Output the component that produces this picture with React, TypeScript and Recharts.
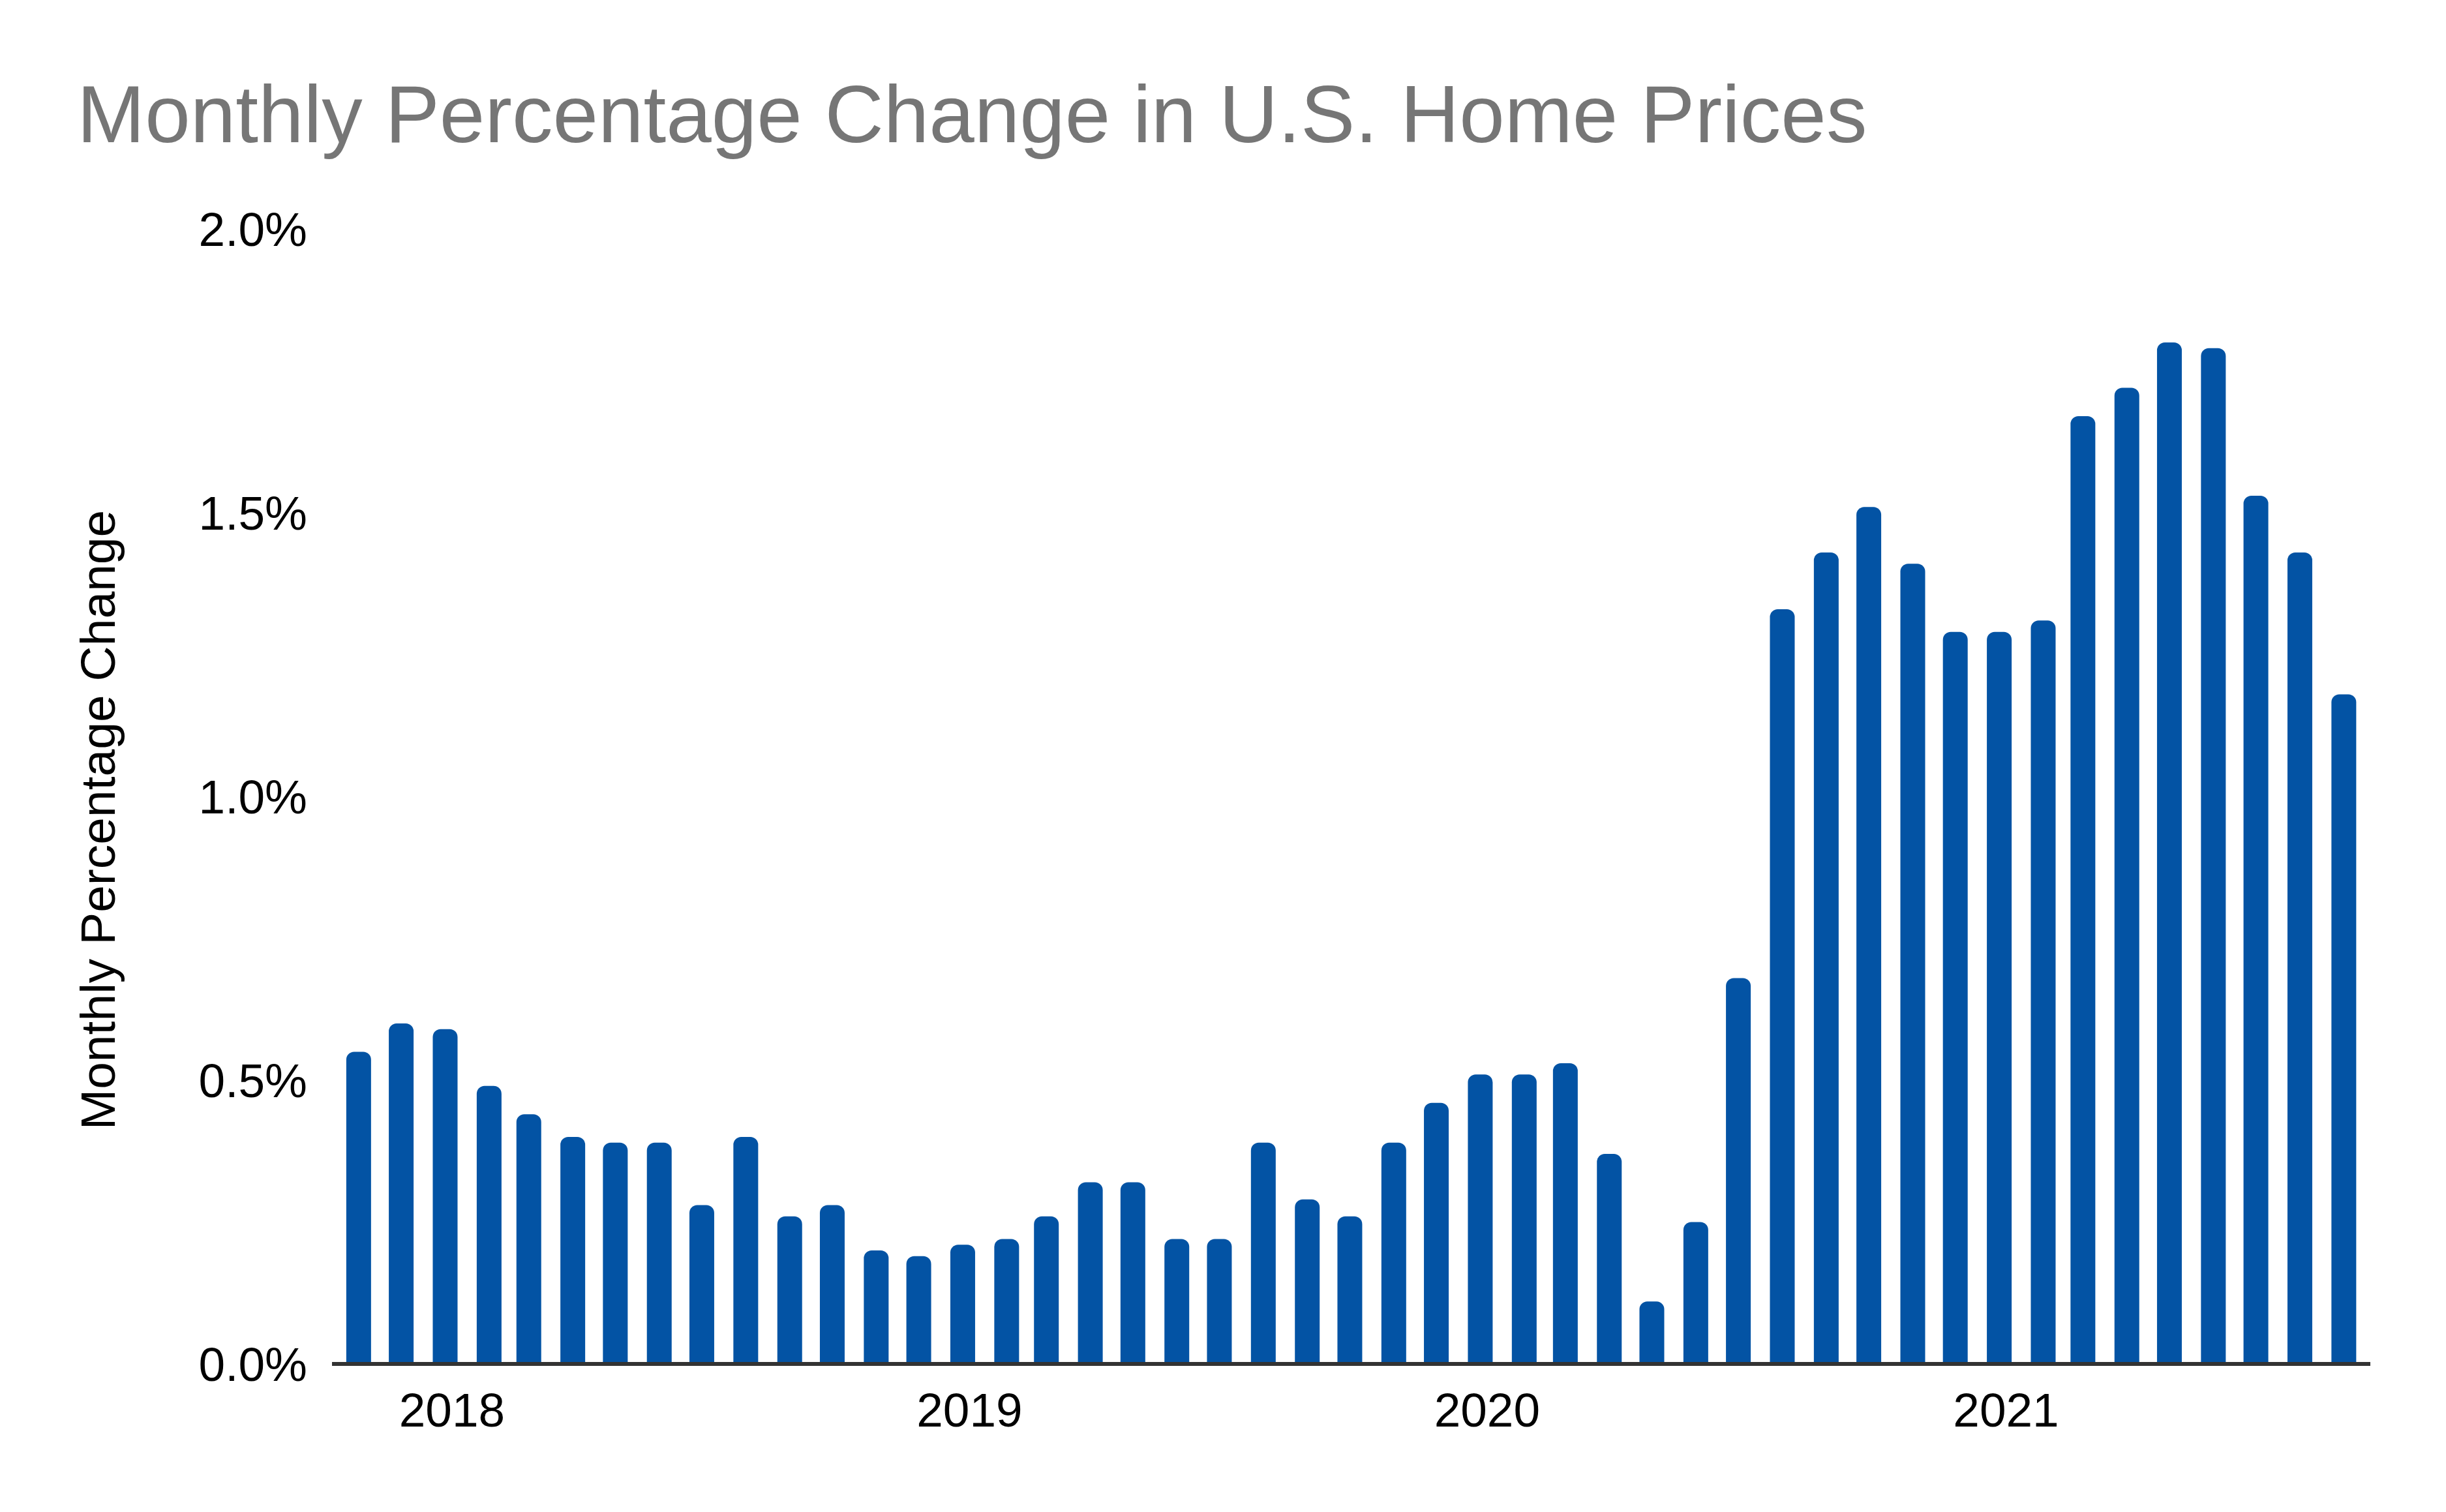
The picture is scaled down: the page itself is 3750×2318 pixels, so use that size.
import React from 'react';
import { Bar, BarChart, XAxis, YAxis } from 'recharts';

const months = [
  '2017-11', '2017-12',
  '2018-01', '2018-02', '2018-03', '2018-04', '2018-05', '2018-06',
  '2018-07', '2018-08', '2018-09', '2018-10', '2018-11', '2018-12',
  '2019-01', '2019-02', '2019-03', '2019-04', '2019-05', '2019-06',
  '2019-07', '2019-08', '2019-09', '2019-10', '2019-11', '2019-12',
  '2020-01', '2020-02', '2020-03', '2020-04', '2020-05', '2020-06',
  '2020-07', '2020-08', '2020-09', '2020-10', '2020-11', '2020-12',
  '2021-01', '2021-02', '2021-03', '2021-04', '2021-05', '2021-06',
  '2021-07', '2021-08', '2021-09',
];

const monthlyChange = [
  0.55, 0.6,
  0.59, 0.49, 0.44, 0.4, 0.39, 0.39, 0.28, 0.4, 0.26, 0.28, 0.2, 0.19,
  0.21, 0.22, 0.26, 0.32, 0.32, 0.22, 0.22, 0.39, 0.29, 0.26, 0.39, 0.46,
  0.51, 0.51, 0.53, 0.37, 0.11, 0.25, 0.68, 1.33, 1.43, 1.51, 1.41, 1.29,
  1.29, 1.31, 1.67, 1.72, 1.8, 1.79, 1.53, 1.43, 1.18,
];

const yearTicks = ['2018', '2019', '2020', '2021'];
const percentTicks = [0, 0.5, 1, 1.5, 2];

const toTime = (s: string) => {
  const [y, m] = s.split('-').map(Number);
  return Date.UTC(y, m - 1, 1);
};

const data = months.map((m, i) => ({ t: toTime(m), value: monthlyChange[i] }));

const DAY = 24 * 3600 * 1000;
const FONT = '"Liberation Sans", Arial, Helvetica, sans-serif';

function YLabel({ viewBox }: any) {
  const x = viewBox.x + 176;
  const y = viewBox.y + viewBox.height / 2 + 36;
  return (
    <text
      x={x}
      y={y}
      transform={`rotate(-90 ${x} ${y})`}
      textAnchor="middle"
      fontSize={75}
      fontFamily={FONT}
      fill="#000"
    >
      Monthly Percentage Change
    </text>
  );
}

export default function App() {
  return (
    <div style={{ position: 'absolute', left: 0, top: 0, width: 3750, height: 2318, background: '#fff' }}>
      <div
        style={{
          position: 'absolute',
          left: 118,
          top: 112,
          fontFamily: FONT,
          fontSize: 125,
          lineHeight: 1,
          color: '#767676',
          whiteSpace: 'nowrap',
        }}
      >
        Monthly Percentage Change in U.S. Home Prices
      </div>
      <BarChart
        width={3750}
        height={2318}
        data={data}
        margin={{ top: 351, right: 116, bottom: 0, left: 0 }}
      >
        <XAxis
          dataKey="t"
          type="number"
          domain={[data[0].t - 19 * DAY, data[data.length - 1].t + 18.5 * DAY]}
          ticks={yearTicks.map((y) => Date.UTC(Number(y), 0, 1))}
          tickFormatter={(t) => String(new Date(t).getUTCFullYear())}
          interval={0}
          height={227}
          tickLine={false}
          tickSize={0}
          tickMargin={44}
          axisLine={{ stroke: '#333333', strokeWidth: 6 }}
          tick={{ fontSize: 73, fill: '#000', fontFamily: FONT, dx: 10 }}
        />
        <YAxis
          type="number"
          domain={[0, 2]}
          ticks={percentTicks}
          tickFormatter={(v) => `${v.toFixed(1)}%`}
          width={509}
          axisLine={false}
          tickLine={false}
          tickSize={0}
          tickMargin={38}
          interval={0}
          tick={{ fontSize: 73, fill: '#000', fontFamily: FONT }}
          label={<YLabel />}
        />
        <Bar
          dataKey="value"
          fill="#0353a4"
          barSize={38}
          radius={[12, 12, 0, 0]}
          isAnimationActive={false}
        />
      </BarChart>
    </div>
  );
}
